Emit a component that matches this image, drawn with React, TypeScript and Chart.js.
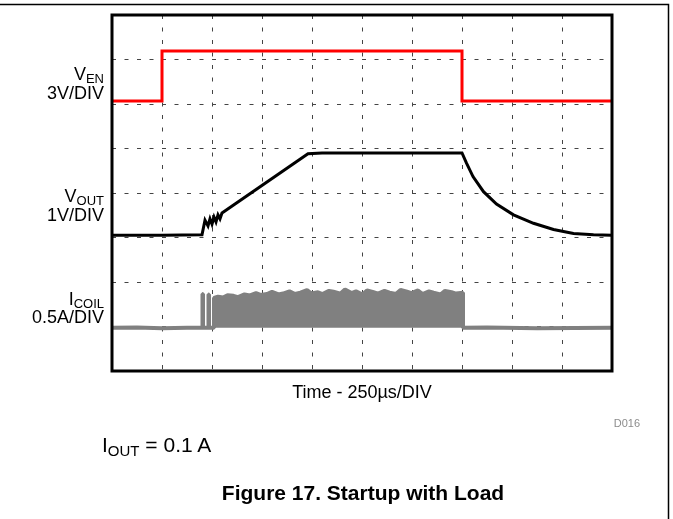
import React, { useEffect, useRef } from "react";
import { Chart, registerables } from "chart.js";

Chart.register(...registerables);

// ---- Data (x in time divisions 0..10, y in vertical divisions 0..8) ----
const venTime = [0, 1.0, 1.0, 7.0, 7.0, 10];
const venLevel = [6.07, 6.07, 7.19, 7.19, 6.07, 6.07];

const voutTime = [0, 1.0, 1.8, 1.86, 1.92, 1.96, 2.0, 2.04, 2.08, 2.12, 2.16, 2.2, 3.92, 4.2, 7.0, 7.09, 7.22, 7.43, 7.69, 8.03, 8.43, 8.83, 9.23, 9.63, 10];
const voutLevel = [3.05, 3.05, 3.06, 3.39, 3.26, 3.42, 3.3, 3.46, 3.35, 3.51, 3.42, 3.55, 4.88, 4.9, 4.9, 4.67, 4.37, 4.03, 3.75, 3.51, 3.32, 3.18, 3.09, 3.06, 3.05];

const icoilPreTime = [0, 0.5, 1.0, 1.5, 1.81, 1.81, 1.82, 1.82, 1.93, 1.93, 1.94, 1.94, 2.04];
const icoilPreLevel = [0.97, 0.98, 0.96, 0.97, 0.97, 1.73, 1.73, 0.97, 0.97, 1.72, 1.72, 0.97, 0.97];
const icoilBurstTime = [2.04, 2.12, 2.22, 2.31, 2.43, 2.52, 2.65, 2.76, 2.88, 2.97, 3.1, 3.2, 3.33, 3.42, 3.55, 3.66, 3.77, 3.9, 3.99, 4.12, 4.21, 4.34, 4.43, 4.57, 4.66, 4.79, 4.88, 5.01, 5.1, 5.23, 5.32, 5.45, 5.55, 5.68, 5.77, 5.9, 5.99, 6.12, 6.21, 6.34, 6.43, 6.57, 6.66, 6.79, 6.88, 7.02];
const icoilBurstTop = [1.64, 1.67, 1.65, 1.7, 1.69, 1.66, 1.72, 1.7, 1.75, 1.71, 1.73, 1.78, 1.72, 1.74, 1.79, 1.73, 1.76, 1.82, 1.74, 1.77, 1.73, 1.8, 1.78, 1.74, 1.83, 1.75, 1.79, 1.72, 1.81, 1.77, 1.74, 1.8, 1.76, 1.73, 1.82, 1.78, 1.75, 1.81, 1.73, 1.79, 1.76, 1.72, 1.8, 1.77, 1.74, 1.76];
const icoilPostTime = [7.02, 7.5, 8.5, 10];
const icoilPostLevel = [0.97, 0.98, 0.96, 0.97];
const icoilBase = 0.97;

const xDivisions = 10;
const yDivisions = 8;

const FONT = '"Liberation Sans", Arial, Helvetica, sans-serif';
const W = 673;
const H = 519;

const pts = (t: number[], v: number[]) => t.map((x, i) => ({ x, y: v[i] }));

const framePlugin = {
  id: "scopeFrame",
  afterDraw(chart: any) {
    const { ctx, chartArea: a } = chart;
    ctx.save();
    ctx.strokeStyle = "#000";
    ctx.lineWidth = 3;
    ctx.strokeRect(a.left, a.top, a.right - a.left, a.bottom - a.top);
    ctx.lineWidth = 1.5;
    ctx.beginPath();
    ctx.moveTo(0, 4.5);
    ctx.lineTo(668.5, 4.5);
    ctx.lineTo(668.5, H);
    ctx.stroke();
    ctx.restore();
  },
};

function Txt(props: any) {
  const { x, base, size, align = "left", bold = false, color = "#000", children } = props;
  const top = base - 0.8465 * size;
  const style: any = {
    position: "absolute",
    top,
    fontSize: size,
    lineHeight: `${size}px`,
    fontFamily: FONT,
    fontWeight: bold ? 700 : 400,
    color,
    whiteSpace: "nowrap",
  };
  if (align === "left") style.left = x;
  else if (align === "right") style.right = W - x;
  else {
    style.left = x - 300;
    style.width = 600;
    style.textAlign = "center";
  }
  return <div style={style}>{children}</div>;
}

const Sub = (props: any) => (
  <span style={{ fontSize: props.size, position: "relative", top: props.drop }}>{props.children}</span>
);

export default function App() {
  const ref = useRef<HTMLCanvasElement | null>(null);

  useEffect(() => {
    if (!ref.current) return;
    const gridColor = (ctx: any, max: number) => {
      const v = ctx.tick ? ctx.tick.value : -1;
      return v <= 0 || v >= max ? "rgba(0,0,0,0)" : "#444";
    };
    const chart = new Chart(ref.current, {
      type: "line",
      data: {
        datasets: [
          {
            label: "ICOIL",
            data: pts(
              [...icoilPreTime, ...icoilBurstTime, ...icoilPostTime],
              [...icoilPreLevel, ...icoilBurstTop, ...icoilPostLevel]
            ),
            borderColor: "#808080",
            backgroundColor: "#808080",
            borderWidth: 4,
            borderJoinStyle: "bevel",
            fill: { value: icoilBase },
            pointRadius: 0,
            tension: 0,
          },
          {
            label: "VOUT",
            data: pts(voutTime, voutLevel),
            borderColor: "#000",
            borderWidth: 3,
            fill: false,
            pointRadius: 0,
            tension: 0,
          },
          {
            label: "VEN",
            data: pts(venTime, venLevel),
            borderColor: "#ff0000",
            borderWidth: 3,
            fill: false,
            pointRadius: 0,
            tension: 0,
          },
        ],
      },
      options: {
        responsive: false,
        maintainAspectRatio: false,
        animation: false,
        devicePixelRatio: 1,
        layout: { padding: { left: 112, top: 15, right: W - 612, bottom: H - 371 } },
        plugins: { legend: { display: false }, tooltip: { enabled: false } },
        scales: {
          x: {
            type: "linear",
            min: 0,
            max: xDivisions,
            ticks: { display: false, stepSize: 1 },
            grid: { drawTicks: false, color: (c: any) => gridColor(c, xDivisions), lineWidth: 1 },
            border: { display: false, dash: [4, 8.5] },
          },
          y: {
            type: "linear",
            min: 0,
            max: yDivisions,
            ticks: { display: false, stepSize: 1 },
            grid: { drawTicks: false, color: (c: any) => gridColor(c, yDivisions), lineWidth: 1 },
            border: { display: false, dash: [4, 8.5] },
          },
        },
      } as any,
      plugins: [framePlugin],
    });
    return () => chart.destroy();
  }, []);

  return (
    <div style={{ position: "absolute", left: 0, top: 0, width: W, height: H, background: "#fff" }}>
      <canvas ref={ref} width={W} height={H} style={{ position: "absolute", left: 0, top: 0, width: W, height: H }} />
      <Txt x={104} base={80} size={18} align="right">
        V<Sub size={13} drop={3}>EN</Sub>
      </Txt>
      <Txt x={104} base={99} size={18} align="right">3V/DIV</Txt>
      <Txt x={104} base={202} size={18} align="right">
        V<Sub size={13} drop={3}>OUT</Sub>
      </Txt>
      <Txt x={104} base={221} size={18} align="right">1V/DIV</Txt>
      <Txt x={104} base={305} size={18} align="right">
        I<Sub size={13} drop={3}>COIL</Sub>
      </Txt>
      <Txt x={104} base={323} size={18} align="right">0.5A/DIV</Txt>
      <Txt x={362} base={398} size={18} align="center">Time - 250µs/DIV</Txt>
      <Txt x={640} base={427} size={11} align="right" color="#8c8c8c">D016</Txt>
      <Txt x={102} base={452} size={21}>
        I<Sub size={15} drop={4}>OUT</Sub> = 0.1 A
      </Txt>
      <Txt x={363} base={500} size={21} align="center" bold>Figure 17. Startup with Load</Txt>
    </div>
  );
}
